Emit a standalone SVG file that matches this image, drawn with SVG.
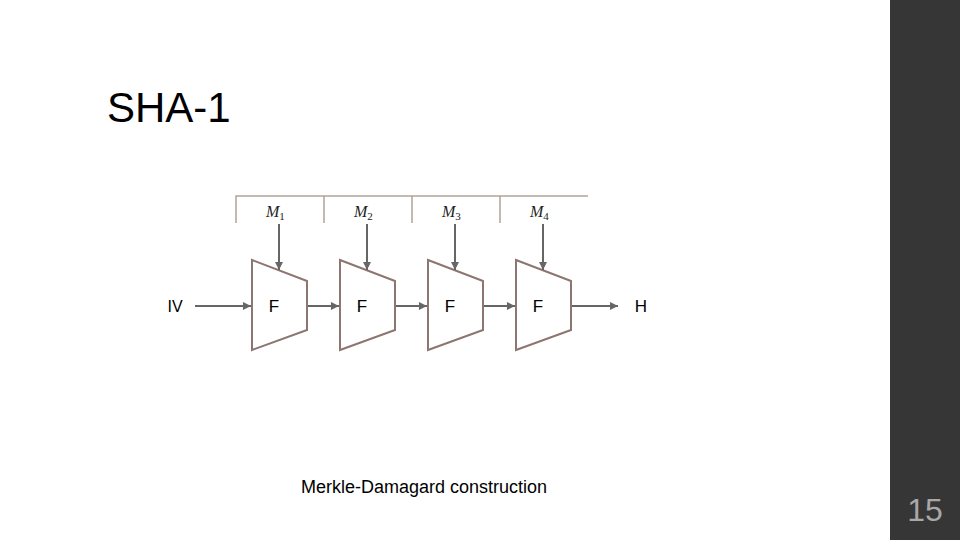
<svg xmlns="http://www.w3.org/2000/svg" width="960" height="540" viewBox="0 0 960 540">
<style>
.t{font-family:"Liberation Sans",Arial,sans-serif;fill:#000}
.m{font-family:"Liberation Serif","DejaVu Serif",serif;font-style:italic;font-size:16px;fill:#222}
.sub{font-size:11px;font-style:normal}
.trap{fill:#fff;stroke:#8c766f;stroke-width:2}
.arr{stroke:#666;stroke-width:2;fill:none;marker-end:url(#ah)}
.box{stroke:#b3a39c;stroke-width:1.5;fill:none}
</style>
<defs>
<marker id="ah" markerWidth="9" markerHeight="9" refX="8" refY="4.5" orient="auto" markerUnits="userSpaceOnUse">
<path d="M0,0.5 L8,4.5 L0,8.5 Z" fill="#666"/>
</marker>
</defs>
<rect width="960" height="540" fill="#fff"/>
<rect x="890" y="0" width="70" height="540" fill="#363636"/>
<text x="925" y="521" text-anchor="middle" font-family="Liberation Sans,Arial,sans-serif" font-size="32" fill="#a8a8a8">15</text>
<text class="t" x="107" y="122" font-size="42">SHA-1</text>
<g id="messages">
<path class="box" d="M236,223 V196 H588 M324,196 V223 M412,196 V223 M500,196 V223"/>
<text class="m" x="266" y="217">M<tspan class="sub" dy="3">1</tspan></text>
<text class="m" x="354" y="217">M<tspan class="sub" dy="3">2</tspan></text>
<text class="m" x="442" y="217">M<tspan class="sub" dy="3">3</tspan></text>
<text class="m" x="530" y="217">M<tspan class="sub" dy="3">4</tspan></text>
</g>
<g id="iv"><text class="t" x="175" y="312" font-size="16" text-anchor="middle">IV</text></g>
<g id="f1"><path class="trap" d="M252,260 L307,281 V330 L252,350 Z"/><text class="t" x="274" y="312" font-size="17" text-anchor="middle">F</text></g>
<g id="f2"><path class="trap" d="M340,260 L395,281 V330 L340,350 Z"/><text class="t" x="362" y="312" font-size="17" text-anchor="middle">F</text></g>
<g id="f3"><path class="trap" d="M428,260 L483,281 V330 L428,350 Z"/><text class="t" x="450" y="312" font-size="17" text-anchor="middle">F</text></g>
<g id="f4"><path class="trap" d="M516,260 L571,281 V330 L516,350 Z"/><text class="t" x="538" y="312" font-size="17" text-anchor="middle">F</text></g>
<g id="h"><text class="t" x="641" y="312" font-size="17" text-anchor="middle">H</text></g>
<g id="connectors">
<line class="arr" x1="279" y1="224" x2="279" y2="270"/>
<line class="arr" x1="367" y1="224" x2="367" y2="270"/>
<line class="arr" x1="455" y1="224" x2="455" y2="270"/>
<line class="arr" x1="543" y1="224" x2="543" y2="270"/>
<line class="arr" x1="195" y1="306" x2="251" y2="306"/>
<line class="arr" x1="308" y1="306" x2="339" y2="306"/>
<line class="arr" x1="396" y1="306" x2="427" y2="306"/>
<line class="arr" x1="484" y1="306" x2="515" y2="306"/>
<line class="arr" x1="572" y1="306" x2="618" y2="306"/>
</g>
<text class="t" x="424" y="493" font-size="18" text-anchor="middle">Merkle-Damagard construction</text>
</svg>
